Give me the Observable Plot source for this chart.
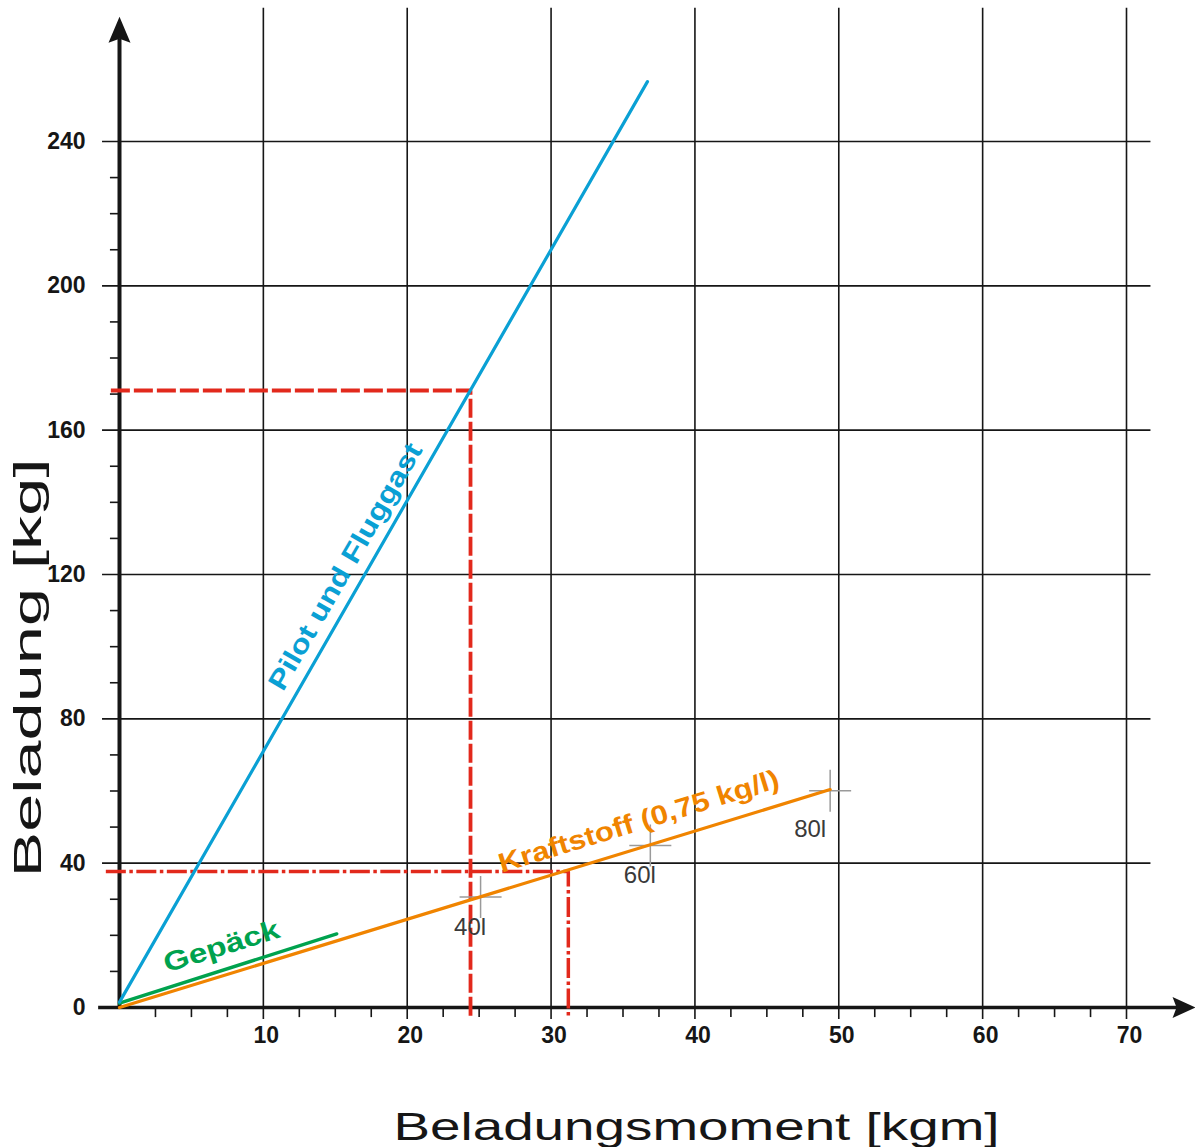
<!DOCTYPE html>
<html>
<head>
<meta charset="utf-8">
<script src="https://cdn.jsdelivr.net/npm/d3@7"></script>
<script src="https://cdn.jsdelivr.net/npm/@observablehq/plot@0.6"></script>
<style>
  html, body { margin: 0; padding: 0; background: #fff; }
  svg { display: block; }
</style>
</head>
<body>
<div id="chart"></div>
<script>
// ---- tick values ----
const xMajorTicks = [10, 20, 30, 40, 50, 60, 70];
const xMinorTicks = [2.5, 5, 7.5, 12.5, 15, 17.5, 22.5, 25, 27.5, 32.5, 35, 37.5, 42.5, 45, 47.5, 52.5, 55, 57.5, 62.5, 65, 67.5];
const yTicks = [0, 40, 80, 120, 160, 200, 240];
const yMinorTicks = [10, 20, 30, 50, 60, 70, 90, 100, 110, 130, 140, 150, 170, 180, 190, 210, 220, 230];

// ---- series (Beladungsmoment kgm, Beladung kg) ----
const pilotX = [0, 36.7];
const pilotY = [1.5, 256.6];
const gepaeckX = [0, 15.1];
const gepaeckY = [1.2, 20.4];
const kraftstoffX = [0, 49.4];
const kraftstoffY = [0, 60.4];

// fuel volume marks on the Kraftstoff line
const fuelLabels = ["40l", "60l", "80l"];
const fuelX = [25.1, 36.9, 49.4];
const fuelY = [30.6, 44.9, 60.1];

// example reading (dashed: Pilot, dash-dot: Kraftstoff)
const dashedX = [-0.6, 24.4, 24.4];
const dashedY = [171, 171, -2.7];
const dashDotX = [-0.95, 31.2, 31.2];
const dashDotY = [37.7, 37.7, -2.2];

// ---- text ----
const xTitle = "Beladungsmoment [kgm]";
const yTitle = "Beladung [kg]";
const pilotLabel = "Pilot und Fluggast";
const gepaeckLabel = "Gepäck";
const kraftstoffLabel = "Kraftstoff (0,75 kg/l)";

// ---- colours ----
const cBlue = "#0aa0d4";
const cGreen = "#00a24e";
const cOrange = "#f08400";
const cRed = "#e2291c";
const cInk = "#161616";

const pts = (xs, ys) => xs.map((x, i) => ({x, y: ys[i]}));
const fuel = fuelLabels.map((label, i) => ({label, x: fuelX[i], y: fuelY[i]}));

// custom symbols
const upArrow = {draw(ctx) { ctx.moveTo(0, 0); ctx.lineTo(11, 26); ctx.lineTo(0, 22); ctx.lineTo(-11, 26); ctx.closePath(); }};
const rightArrow = {draw(ctx) { ctx.moveTo(0, 0); ctx.lineTo(-23, -10.5); ctx.lineTo(-19, 0); ctx.lineTo(-23, 10.5); ctx.closePath(); }};
const crossSym = {draw(ctx) { ctx.moveTo(-21, 0); ctx.lineTo(21, 0); ctx.moveTo(0, -21); ctx.lineTo(0, 21); }};

const gridTop = 276.9, gridBottom = -3.3, gridLeft = -1.18, gridRight = 71.7;

const chart = Plot.plot({
  width: 1195,
  height: 1147,
  marginLeft: 119,
  marginRight: 69,
  marginTop: 141,
  marginBottom: 140,
  x: {domain: [0, 70]},
  y: {domain: [0, 240]},
  style: {fontFamily: "'Liberation Sans', Arial, Helvetica, sans-serif", background: "#fff", color: cInk},
  marks: [
    // grid
    Plot.ruleX(xMajorTicks, {y1: gridBottom, y2: gridTop, stroke: cInk, strokeWidth: 1.6}),
    Plot.ruleY(yTicks.filter(d => d > 0), {x1: gridLeft, x2: gridRight, stroke: cInk, strokeWidth: 1.6}),
    // minor ticks
    Plot.ruleX(xMinorTicks, {y1: -2.8, y2: 0, stroke: cInk, strokeWidth: 1.6}),
    Plot.ruleY(yMinorTicks, {x1: -0.63, x2: 0, stroke: cInk, strokeWidth: 1.6}),
    // axes lines + arrows
    Plot.ruleY([0], {x1: -1.45, x2: 73.6, stroke: cInk, strokeWidth: 3.6}),
    Plot.ruleX([0], {y1: -0.3, y2: 268.5, stroke: cInk, strokeWidth: 4}),
    Plot.dot([0], {x: 74.8, y: 0, symbol: rightArrow, fill: cInk, stroke: "none"}),
    Plot.dot([0], {x: 0, y: 274.6, symbol: upArrow, fill: cInk, stroke: "none"}),
    // tick labels
    Plot.axisY({ticks: yTicks, anchor: "left", tickSize: 0, tickPadding: 34, fontSize: 23, fontWeight: "bold", label: null}),
    Plot.axisX({ticks: xMajorTicks, anchor: "bottom", tickSize: 0, tickPadding: 19, dx: 3, fontSize: 23, fontWeight: "bold", label: null}),
    // example reading lines
    Plot.line(pts(dashedX, dashedY), {x: "x", y: "y", stroke: cRed, strokeWidth: 3.8, strokeDasharray: "19,4", strokeLinecap: "butt", strokeLinejoin: "miter"}),
    Plot.line(pts(dashDotX, dashDotY), {x: "x", y: "y", stroke: cRed, strokeWidth: 3.5, strokeDasharray: "20,3.5,3.5,3.5", strokeLinecap: "butt", strokeLinejoin: "miter"}),
    // fuel volume crosses
    Plot.dot(fuel, {x: "x", y: "y", symbol: crossSym, fill: "none", stroke: "#9a9a9a", strokeWidth: 1.5}),
    // series lines
    Plot.line(pts(kraftstoffX, kraftstoffY), {x: "x", y: "y", stroke: cOrange, strokeWidth: 3.2}),
    Plot.line(pts(gepaeckX, gepaeckY), {x: "x", y: "y", stroke: cGreen, strokeWidth: 3.4}),
    Plot.line(pts(pilotX, pilotY), {x: "x", y: "y", stroke: cBlue, strokeWidth: 3.2}),
    // fuel labels
    Plot.text(fuel.filter(d => d.label !== "80l"), {x: "x", y: "y", text: "label", dx: -10.5, dy: 30, fontSize: 24, fill: "#3a3a3a"}),
    Plot.text(fuel.filter(d => d.label === "80l"), {x: "x", y: "y", text: "label", dx: -20, dy: 39, fontSize: 24, fill: "#3a3a3a"}),
    // series labels
    Plot.text([pilotLabel], {x: 15.71, y: 122.2, text: d => d, rotate: -60, fill: cBlue, fontSize: 27, fontWeight: "bold"}),
    Plot.text([gepaeckLabel], {x: 7.09, y: 16.9, text: d => d, rotate: -17.3, fill: cGreen, fontSize: 27, fontWeight: "bold"}),
    Plot.text([kraftstoffLabel], {x: 36.1, y: 51.5, text: d => d, rotate: -17.1, fill: cOrange, fontSize: 27, fontWeight: "bold"}),
    // axis titles
    Plot.text([yTitle], {frameAnchor: "left", textAnchor: "middle", lineAnchor: "middle", text: d => d, rotate: -90, dx: -91, dy: 93.5, fontSize: 38, fill: cInk}),
    Plot.text([xTitle], {frameAnchor: "bottom", textAnchor: "middle", lineAnchor: "bottom", text: d => d, dx: 73.5, dy: 132, fontSize: 38, fill: cInk})
  ]
});

// stretched lettering as in the original artwork
const stretch = {};
stretch[xTitle] = 606;
stretch[yTitle] = 419;
stretch[pilotLabel] = 280;
stretch[gepaeckLabel] = 120;
stretch[kraftstoffLabel] = 292;
d3.select(chart).selectAll("text").each(function () {
  const t = this.textContent;
  if (stretch[t]) {
    this.setAttribute("textLength", stretch[t]);
    this.setAttribute("lengthAdjust", "spacingAndGlyphs");
  }
});

document.getElementById("chart").appendChild(chart);
</script>
</body>
</html>
